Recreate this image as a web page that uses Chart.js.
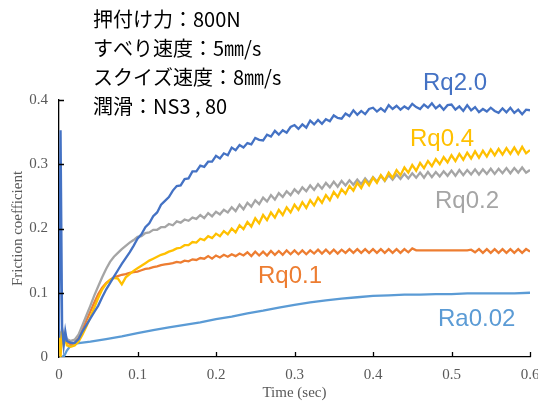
<!doctype html>
<html lang="ja">
<head>
<meta charset="utf-8">
<title>Friction coefficient</title>
<script src="https://cdn.jsdelivr.net/npm/chart.js"></script>
<style>
  html, body { margin: 0; padding: 0; background: #fff; }
  #wrap { width: 538px; height: 402px; }
</style>
</head>
<body>
<div id="wrap"><canvas id="chart" width="538" height="402"></canvas></div>
<script>
// time axis (sec) shared by the four Rq curves
const time = [
  0, 0.002, 0.004, 0.006, 0.008, 0.01, 0.015, 0.02, 0.025, 0.03, 0.035, 0.04, 0.045,
  0.05, 0.055, 0.06, 0.065, 0.07, 0.075, 0.08, 0.085, 0.09, 0.095,
  0.1, 0.105, 0.11, 0.115, 0.12, 0.125, 0.13, 0.135, 0.14, 0.145,
  0.15, 0.155, 0.16, 0.165, 0.17, 0.175, 0.18, 0.185, 0.19, 0.195,
  0.2, 0.205, 0.21, 0.215, 0.22, 0.225, 0.23, 0.235, 0.24, 0.245,
  0.25, 0.255, 0.26, 0.265, 0.27, 0.275, 0.28, 0.285, 0.29, 0.295,
  0.3, 0.305, 0.31, 0.315, 0.32, 0.325, 0.33, 0.335, 0.34, 0.345,
  0.35, 0.355, 0.36, 0.365, 0.37, 0.375, 0.38, 0.385, 0.39, 0.395,
  0.4, 0.405, 0.41, 0.415, 0.42, 0.425, 0.43, 0.435, 0.44, 0.445,
  0.45, 0.455, 0.46, 0.465, 0.47, 0.475, 0.48, 0.485, 0.49, 0.495,
  0.5, 0.505, 0.51, 0.515, 0.52, 0.525, 0.53, 0.535, 0.54, 0.545,
  0.55, 0.555, 0.56, 0.565, 0.57, 0.575, 0.58, 0.585, 0.59, 0.595,
  0.6
];

const rq20 = [
  .030, .353, .045, .018, .040, .025, .022, .022, .028, .040, .050, .060, .070,
  .080, .093, .105, .115, .125, .135, .145, .154, .163, .173,
  .184, .191, .202, .208, .219, .225, .237, .243, .249, .259,
  .266, .267, .277, .278, .289, .289, .298, .296, .304, .304,
  .313, .309, .317, .314, .326, .322, .330, .326, .333, .331,
  .341, .338, .337, .346, .343, .352, .346, .353, .349, .358,
  .361, .355, .362, .357, .368, .362, .369, .363, .370, .367,
  .376, .372, .371, .379, .375, .384, .377, .383, .378, .386,
  .388, .382, .387, .382, .392, .386, .391, .385, .390, .386,
  .394, .389, .386, .393, .388, .395, .387, .392, .385, .392,
  .393, .385, .390, .383, .392, .384, .389, .381, .386, .382,
  .388, .383, .380, .387, .381, .388, .380, .385, .378, .385,
  .384
];

const rq04 = [
  .035, .000, .040, .020, .030, .018, .016, .018, .024, .035, .048, .062, .077,
  .092, .105, .114, .120, .123, .122, .113, .124, .129, .134,
  .138, .142, .146, .150, .153, .156, .159, .161, .164, .166,
  .169, .170, .174, .174, .179, .178, .184, .182, .188, .185,
  .192, .188, .196, .191, .200, .194, .205, .199, .210, .203,
  .216, .208, .221, .213, .225, .217, .229, .221, .233, .225,
  .237, .229, .241, .232, .244, .236, .248, .240, .252, .244,
  .257, .249, .261, .254, .266, .259, .271, .263, .275, .267,
  .279, .271, .283, .275, .287, .279, .291, .283, .295, .287,
  .299, .290, .302, .294, .305, .297, .308, .300, .311, .303,
  .314, .305, .316, .307, .318, .309, .320, .310, .321, .312,
  .323, .314, .324, .315, .325, .316, .326, .316, .327, .317,
  .322
];

const rq02 = [
  .040, .030, .045, .030, .035, .028, .025, .027, .035, .050, .065, .080, .096,
  .110, .124, .137, .148, .156, .162, .168, .173, .178, .182,
  .187, .188, .193, .194, .198, .198, .202, .202, .207, .205,
  .211, .209, .214, .212, .217, .215, .221, .216, .224, .219,
  .226, .222, .229, .225, .233, .227, .237, .230, .240, .234,
  .244, .238, .248, .242, .252, .245, .255, .249, .258, .252,
  .261, .255, .264, .258, .267, .260, .269, .262, .271, .264,
  .273, .265, .274, .267, .275, .268, .276, .269, .278, .271,
  .280, .273, .282, .274, .283, .276, .284, .277, .285, .278,
  .286, .279, .287, .279, .288, .280, .288, .281, .289, .282,
  .290, .282, .291, .283, .291, .284, .292, .284, .292, .285,
  .293, .285, .293, .286, .294, .286, .294, .287, .295, .287,
  .291
];

const rq01 = [
  .030, .020, .040, .025, .030, .022, .020, .022, .030, .043, .057, .071, .085,
  .098, .108, .115, .120, .124, .126, .128, .129, .131, .132,
  .133, .135, .137, .138, .140, .141, .143, .144, .145, .146,
  .148, .147, .150, .149, .152, .151, .154, .153, .157, .153,
  .158, .155, .159, .156, .160, .157, .161, .158, .163, .157,
  .164, .158, .164, .158, .165, .159, .165, .159, .166, .160,
  .166, .160, .166, .160, .166, .161, .167, .161, .167, .161,
  .167, .161, .167, .162, .168, .162, .168, .162, .168, .162,
  .168, .162, .168, .162, .168, .162, .168, .162, .168, .163,
  .169, .166, .166, .166, .166, .166, .166, .166, .166, .166,
  .166, .166, .166, .166, .166, .167, .163, .168, .162, .168,
  .162, .168, .162, .168, .162, .168, .162, .168, .162, .168,
  .164
];

// Ra0.02 is smooth, so it has its own coarser time list
const raTime = [0.004, 0.006, 0.01, 0.015, 0.02, 0.04, 0.06, 0.08, 0.1, 0.12, 0.14, 0.16,
  0.18, 0.2, 0.22, 0.24, 0.26, 0.28, 0.3, 0.32, 0.34, 0.36, 0.38, 0.4, 0.42, 0.44,
  0.46, 0.48, 0.5, 0.52, 0.54, 0.56, 0.58, 0.6];
const ra002 = [.002, .000, .010, .018, .021, .024, .028, .032, .037, .042, .046, .050,
  .054, .059, .063, .068, .072, .077, .081, .085, .088, .091, .093, .095, .096, .097,
  .097, .098, .098, .099, .099, .099, .099, .100];

const seriesNames = ['Rq2.0', 'Rq0.4', 'Rq0.2', 'Rq0.1', 'Ra0.02'];
const seriesColors = ['#4472C4', '#FFC000', '#A5A5A5', '#ED7D31', '#5B9BD5'];

const conditions = [
  '押付け力：800N',
  'すべり速度：5㎜/s',
  'スクイズ速度：8㎜/s',
  '潤滑：NS3 , 80'
];

const xTicks = [0, 0.1, 0.2, 0.3, 0.4, 0.5, 0.6];
const yTicks = [0, 0.1, 0.2, 0.3, 0.4];

const toPoints = (xs, ys) => xs.map((x, i) => ({ x: x, y: ys[i] }));
const allSeries = [
  toPoints(time, rq20),
  toPoints(time, rq04),
  toPoints(time, rq02),
  toPoints(time, rq01),
  toPoints(raTime, ra002)
];

const gray = '#595959';
const serif = '"Liberation Serif", "Times New Roman", serif';

// ticks of the axes point into the plot
const innerTicks = {
  id: 'innerTicks',
  afterDraw(chart) {
    const { ctx, chartArea: a } = chart;
    const xs = chart.scales.x, ys = chart.scales.y;
    ctx.save();
    ctx.strokeStyle = '#000';
    ctx.lineWidth = 1.3;
    ctx.beginPath();
    xTicks.forEach(v => {
      if (v === 0) return;
      const px = Math.round(xs.getPixelForValue(v)) + 0.5;
      ctx.moveTo(px, a.bottom);
      ctx.lineTo(px, a.bottom - 5);
    });
    yTicks.forEach(v => {
      if (v === 0) return;
      const py = Math.round(ys.getPixelForValue(v)) + 0.5;
      ctx.moveTo(a.left, py);
      ctx.lineTo(a.left + 5, py);
    });
    ctx.stroke();
    ctx.restore();
  }
};

// condition text and curve names
const notes = {
  id: 'notes',
  afterDraw(chart) {
    const ctx = chart.ctx;
    ctx.save();
    ctx.fillStyle = '#000';
    ctx.font = '20px "Noto Sans CJK JP"';
    ctx.textBaseline = 'middle';
    conditions.forEach((t, i) => ctx.fillText(t, 93, 19 + i * 29.3));

    const spots = [[423, 90], [410, 146], [435, 208], [258, 283], [438, 326]];
    ctx.font = '24px "Liberation Sans", Arial, sans-serif';
    ctx.textBaseline = 'alphabetic';
    seriesNames.forEach((name, i) => {
      ctx.fillStyle = seriesColors[i];
      ctx.fillText(name, spots[i][0], spots[i][1]);
    });
    ctx.restore();
  }
};

new Chart(document.getElementById('chart'), {
  type: 'line',
  data: {
    datasets: allSeries.map((pts, i) => ({
      label: seriesNames[i],
      data: pts,
      borderColor: seriesColors[i],
      borderWidth: 2.3,
      pointRadius: 0,
      tension: 0,
      fill: false
    }))
  },
  options: {
    responsive: false,
    animation: false,
    events: [],
    layout: { padding: { top: 100, right: 8, left: 0, bottom: 0 } },
    plugins: {
      legend: { display: false },
      tooltip: { enabled: false }
    },
    scales: {
      x: {
        type: 'linear',
        min: 0,
        max: 0.6,
        afterBuildTicks: s => { s.ticks = xTicks.map(v => ({ value: v })); },
        afterFit: s => { s.height = 45; s.paddingLeft = 0; s.paddingRight = 0; },
        grid: { display: true, drawOnChartArea: false, drawTicks: false },
        border: { display: true, color: '#000', width: 1.3 },
        ticks: {
          color: gray,
          padding: 9,
          maxRotation: 0,
          font: { family: serif, size: 15 }
        },
        title: {
          display: true,
          text: 'Time (sec)',
          color: gray,
          padding: { top: 0, bottom: 0 },
          font: { family: serif, size: 15 }
        }
      },
      y: {
        type: 'linear',
        min: 0,
        max: 0.4,
        afterBuildTicks: s => { s.ticks = yTicks.map(v => ({ value: v })); },
        afterFit: s => { s.width = 59; },
        grid: { display: true, drawOnChartArea: false, drawTicks: false },
        border: { display: true, color: '#000', width: 1.3 },
        ticks: {
          color: gray,
          padding: 11,
          font: { family: serif, size: 15 }
        },
        title: {
          display: true,
          text: 'Friction coefficient',
          color: gray,
          padding: { top: 9, bottom: 0 },
          font: { family: serif, size: 15 }
        }
      }
    }
  },
  plugins: [innerTicks, notes]
});
</script>
</body>
</html>
